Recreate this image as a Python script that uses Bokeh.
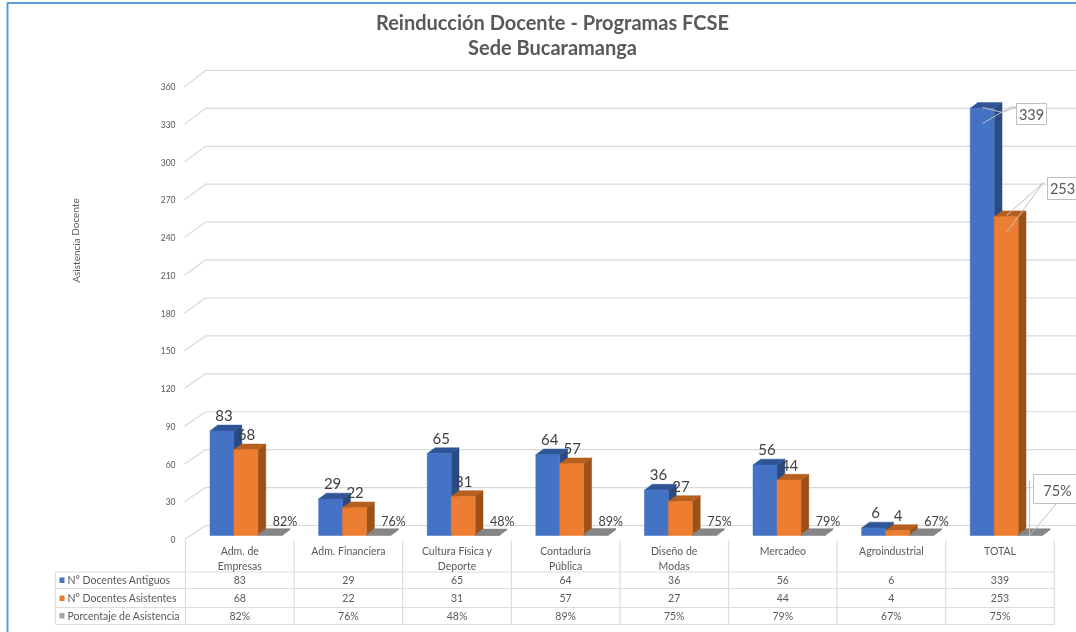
from bokeh.plotting import figure
from bokeh.models import Range1d, FixedTicker, LinearAxis
from bokeh.core.properties import value
from bokeh.embed import file_html
from bokeh.resources import INLINE

categories = ["Adm. de\nEmpresas", "Adm. Financiera", "Cultura Física y\nDeporte", "Contaduría\nPública",
              "Diseño de\nModas", "Mercadeo", "Agroindustrial", "TOTAL"]
antiguos = [83, 29, 65, 64, 36, 56, 6, 339]
asistentes = [68, 22, 31, 57, 27, 44, 4, 253]
porcentaje = [82, 76, 48, 89, 75, 79, 67, 75]
y_ticks = [0, 30, 60, 90, 120, 150, 180, 210, 240, 270, 300, 330, 360]
series_names = ["N° Docentes Antiguos", "N° Docentes Asistentes", "Porcentaje de Asistencia"]
title_lines = ["Reinducción Docente - Programas FCSE", "Sede Bucaramanga"]
y_title = "Asistencia Docente"

W, H = 1076, 632
FONT = "Lato"
X0, XSTEP = 185.0, 108.6        # left edge of the first category, width of a category (px)
Y0, YS = 535.0, 1.26            # floor of the bars, px per unit


def dx(px):
    return (px - X0) / XSTEP


def dy(py):
    return (Y0 - py) / YS


p = figure(width=W, height=H, output_backend="svg", toolbar_location=None,
           x_range=Range1d(dx(0), dx(W)), y_range=Range1d(dy(H), dy(0)),
           min_border=0, outline_line_color=None, background_fill_color="white",
           border_fill_color="white")
p.styles = {"position": "fixed", "left": "0px", "top": "0px"}
p.grid.visible = False
p.xaxis.visible = False

# real y axis, placed inside the frame at the chart's front edge
AX0, AXS = 539.0, 1.258
p.extra_y_ranges = {"axis": Range1d((AX0 - H) / AXS, AX0 / AXS)}
p.yaxis.visible = False
ax = LinearAxis(y_range_name="axis", ticker=FixedTicker(ticks=y_ticks), fixed_location=dx(178),
                axis_line_color=None, major_tick_line_color=None, minor_tick_line_color=None,
                major_label_text_font=FONT, major_label_text_font_size="8.5px",
                major_label_text_color="#595959", major_label_standoff=3, major_tick_in=0, major_tick_out=0)
p.add_layout(ax, "left")

# outer frame
BLUE_FRAME = "#5B9BD5"
p.multi_line([[dx(7), dx(7), dx(W)]], [[dy(H), dy(2.5), dy(2.5)]], line_color=BLUE_FRAME, line_width=2)

# back wall grid with diagonal wall edge
GRID = "#d9d9d9"
gx, gy = [], []
for t in y_ticks:
    front = AX0 - t * AXS
    back = 525 - t * 1.264
    gx.append([dx(184), dx(205), dx(W)])
    gy.append([dy(front), dy(back), dy(back)])
p.multi_line(gx, gy, line_color=GRID, line_width=1.2)

# 3D bars
BAR_W = 24 / XSTEP
DX3, DY3 = 7.8 / XSTEP, 5.8 / YS
GROUP_X = 24.5 / XSTEP


def bars(vals, slot, front, side, top):
    l = [i + GROUP_X + slot * BAR_W for i in range(len(vals))]
    r = [v + BAR_W for v in l]
    p.patches([[a, a + DX3, a + DX3, a] for a in r],
              [[0, DY3, v + DY3, v] for v in vals], fill_color=side, line_color=side, line_width=0.5)
    p.patches([[a, b, b + DX3, a + DX3] for a, b in zip(l, r)],
              [[v, v, v + DY3, v + DY3] for v in vals], fill_color=top, line_color=top, line_width=0.5)
    p.quad(left=l, right=r, bottom=[0] * len(vals), top=vals, fill_color=front, line_color=front, line_width=0.5)


bars(antiguos, 0, "#4472C4", "#2A4A84", "#2F5597")
bars(asistentes, 1, "#ED7D31", "#9A5219", "#B65F1F")
bars([v / 100 for v in porcentaje], 2, "#7F7F7F", "#6b6b6b", "#858585")


def txt(xs, ys, texts, size, color="#404040", align="center", bold=False, angle=0):
    p.text(x=xs, y=ys, text=texts, text_font=value(FONT), text_font_size=value(f"{size}px"),
           text_color=color, text_align=align, text_baseline="middle", angle=angle,
           text_font_style="bold" if bold else "normal")


# data labels (all but TOTAL sit above their bars)
n = len(categories) - 1
LAB = "#404040"
txt([i + GROUP_X + 0.5 * BAR_W + 2 / XSTEP for i in range(n)], [antiguos[i] + 15.5 / YS for i in range(n)],
    [str(v) for v in antiguos[:n]], 15, LAB)
txt([i + GROUP_X + 1.5 * BAR_W + 0.5 / XSTEP for i in range(n)], [asistentes[i] + 15 / YS for i in range(n)],
    [str(v) for v in asistentes[:n]], 15, LAB)
txt([i + GROUP_X + 2.5 * BAR_W + 15 / XSTEP for i in range(n)], [dy(521)] * n,
    [f"{v}%" for v in porcentaje[:n]], 12.5, LAB)

# callouts for TOTAL
LEAD = "#bfbfbf"
leaders = [
    [(982, 107), (1002, 112), (1016, 106.5)],
    [(982, 123), (1010, 106.5), (1016, 106.5)],
    [(1006, 215), (1043, 182)],
    [(1006, 232), (1043, 182)],
    [(1029, 480), (1029, 535)],
    [(1029, 535), (1056, 503)],
]
p.multi_line([[dx(a) for a, _ in s] for s in leaders], [[dy(b) for _, b in s] for s in leaders],
             line_color=LEAD, line_width=1)
boxes = [(1016, 1046, 103, 124), (1047, 1080, 177, 199), (1033, 1080, 474, 503)]
p.quad(left=[dx(b[0]) for b in boxes], right=[dx(b[1]) for b in boxes],
       bottom=[dy(b[3]) for b in boxes], top=[dy(b[2]) for b in boxes],
       fill_color="white", line_color="#bfbfbf", line_width=1)
txt([dx(1031), dx(1062), dx(1057)], [dy(114), dy(188), dy(489.5)],
    [str(antiguos[-1]), str(asistentes[-1]), f"{porcentaje[-1]}%"], 14.5, "#595959")

# data table
TBL = "#dcdcdc"
Ys = [571.5, 588, 607, 624]
tx = [[dx(55), dx(X0 + XSTEP * 8)] for _ in Ys]
ty = [[dy(a), dy(a)] for a in Ys]
for i in range(9):
    tx.append([i, i])
    ty.append([dy(540), dy(624)])
tx.append([dx(55), dx(55)])
ty.append([dy(571.5), dy(624)])
p.multi_line(tx, ty, line_color=TBL, line_width=1.2)

TXT = "#595959"
cxs, cys, cts = [], [], []
for i, c in enumerate(categories):
    parts = c.split("\n")
    for j, part in enumerate(parts):
        cxs.append(i + 0.5)
        cys.append(dy(550 + 15 * j))
        cts.append(part)
txt(cxs, cys, cts, 10.5, TXT)

rows = [[str(v) for v in antiguos], [str(v) for v in asistentes], [f"{v}%" for v in porcentaje]]
row_y = [579.5, 597.5, 615]
for r, yy in zip(rows, row_y):
    txt([i + 0.5 for i in range(8)], [dy(yy)] * 8, r, 10.5, TXT)

keys = ["#4472C4", "#ED7D31", "#A5A5A5"]
p.quad(left=[dx(59)] * 3, right=[dx(64)] * 3, bottom=[dy(y + 3) for y in row_y], top=[dy(y - 2.5) for y in row_y],
       fill_color=keys, line_color=None)
txt([dx(67)] * 3, [dy(y) for y in row_y], series_names, 10.5, TXT, align="left")

# titles
txt([dx(552)], [dy(21.5)], title_lines[:1], 20, "#595959", bold=True)
txt([dx(552)], [dy(46)], title_lines[1:], 20, "#595959", bold=True)
txt([dx(75)], [dy(240)], [y_title], 10, "#595959", angle=1.5708)

open("out.html", "w").write(file_html(p, INLINE))
